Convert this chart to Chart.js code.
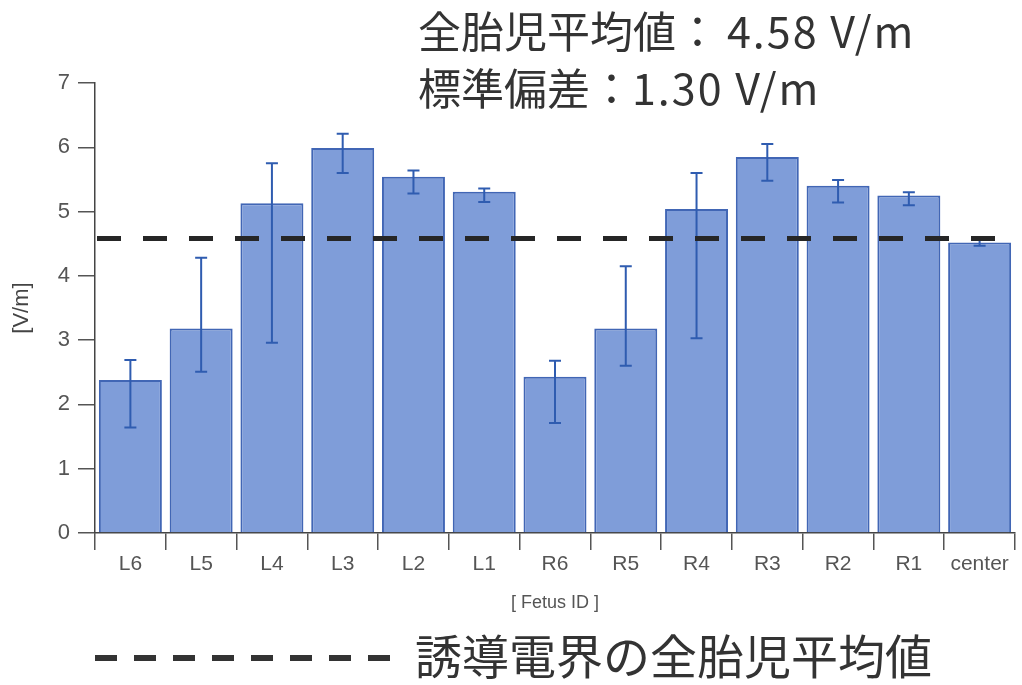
<!DOCTYPE html>
<html>
<head>
<meta charset="utf-8">
<script src="https://cdn.jsdelivr.net/npm/chart.js@4.4.1/dist/chart.umd.min.js"></script>
<style>
  html, body { margin: 0; padding: 0; background: #fff; }
  canvas { display: block; }
</style>
</head>
<body>
<canvas id="c" width="1022" height="685"></canvas>
<script>
// Induced electric field per fetus position (V/m)
const fetusIds  = ['L6', 'L5', 'L4', 'L3', 'L2', 'L1', 'R6', 'R5', 'R4', 'R3', 'R2', 'R1', 'center'];
const fieldMean = [2.38, 3.18, 5.13, 5.99, 5.54, 5.31, 2.43, 3.18, 5.04, 5.85, 5.40, 5.25, 4.52];
const fieldLow  = [1.64, 2.51, 2.96, 5.60, 5.28, 5.15, 1.71, 2.60, 3.03, 5.48, 5.14, 5.10, 4.47];
const fieldHigh = [2.69, 4.28, 5.75, 6.21, 5.64, 5.36, 2.68, 4.15, 5.60, 6.05, 5.49, 5.30, 4.57];
const yTicks    = [0, 1, 2, 3, 4, 5, 6, 7];
const overallMean = [4.58];
const overallSd   = [1.30];

const TEXT_FONT = '"Liberation Sans", Arial, sans-serif';
const JP_FONT = '"Noto Sans CJK JP", "Noto Sans", sans-serif';

// whiskers for each bar
const errorBars = {
  id: 'errorBars',
  afterDatasetsDraw(chart) {
    const { ctx } = chart;
    const meta = chart.getDatasetMeta(0);
    const y = chart.scales.y;
    ctx.save();
    ctx.strokeStyle = '#2f5cb0';
    ctx.lineWidth = 2;
    meta.data.forEach((bar, i) => {
      const x = bar.x;
      const yl = y.getPixelForValue(fieldLow[i]);
      const yh = y.getPixelForValue(fieldHigh[i]);
      ctx.beginPath();
      ctx.moveTo(x, yl); ctx.lineTo(x, yh);
      ctx.moveTo(x - 6, yl); ctx.lineTo(x + 6, yl);
      ctx.moveTo(x - 6, yh); ctx.lineTo(x + 6, yh);
      ctx.stroke();
    });
    ctx.restore();
  }
};

// dashed line for the all-fetus mean
const meanLine = {
  id: 'meanLine',
  afterDatasetsDraw(chart) {
    const { ctx, chartArea } = chart;
    const yp = chart.scales.y.getPixelForValue(overallMean[0]);
    ctx.save();
    ctx.strokeStyle = '#262626';
    ctx.lineWidth = 5;
    ctx.setLineDash([24, 22]);
    ctx.beginPath();
    ctx.moveTo(chartArea.left + 2, yp);
    ctx.lineTo(chartArea.right, yp);
    ctx.stroke();
    ctx.restore();
  }
};

// summary text at the top and the key at the bottom
const captions = {
  id: 'captions',
  afterDraw(chart) {
    const { ctx } = chart;
    ctx.save();
    ctx.fillStyle = '#333';
    ctx.textBaseline = 'middle';
    ctx.textAlign = 'left';
    ctx.font = '43px ' + JP_FONT;
    ctx.fillText('全胎児平均値：', 418, 32);
    ctx.fillText('標準偏差：', 418, 89);
    ctx.letterSpacing = '2px';
    ctx.fillText(overallMean[0].toFixed(2) + ' V/m', 727, 32);
    ctx.fillText(overallSd[0].toFixed(2) + ' V/m', 632, 89);
    ctx.letterSpacing = '0px';

    ctx.strokeStyle = '#333';
    ctx.lineWidth = 6;
    ctx.setLineDash([22, 17]);
    ctx.beginPath();
    ctx.moveTo(95, 658);
    ctx.lineTo(395, 658);
    ctx.stroke();
    ctx.setLineDash([]);

    ctx.font = '47px ' + JP_FONT;
    ctx.fillText('誘導電界の全胎児平均値', 415, 656);
    ctx.restore();
  }
};

new Chart(document.getElementById('c'), {
  type: 'bar',
  data: {
    labels: fetusIds,
    datasets: [{
      data: fieldMean,
      backgroundColor: '#7f9dd9',
      borderColor: '#4166b5',
      borderWidth: 2,
      barPercentage: 0.89,
      categoryPercentage: 1.0
    }]
  },
  options: {
    responsive: false,
    animation: false,
    layout: { padding: { top: 83, right: 7, bottom: 57, left: 0 } },
    plugins: {
      legend: { display: false },
      tooltip: { enabled: false }
    },
    scales: {
      x: {
        ticks: { font: { family: TEXT_FONT, size: 21 }, color: '#555', padding: 2 },
        grid: { offset: true, drawOnChartArea: false, tickLength: 17, color: '#555', lineWidth: 1.5 },
        border: { display: true, color: '#444', width: 1.5 },
        title: {
          display: true, text: '[ Fetus ID ]',
          font: { family: TEXT_FONT, size: 18 }, color: '#555',
          padding: { top: 0, bottom: 14 }
        },
        afterFit(scale) { scale.height = 95; }
      },
      y: {
        min: 0, max: 7,
        afterBuildTicks(scale) { scale.ticks = yTicks.map(v => ({ value: v })); },
        ticks: { font: { family: TEXT_FONT, size: 22 }, color: '#555', padding: 8 },
        grid: { drawOnChartArea: false, tickLength: 17, color: '#555', lineWidth: 1.5 },
        border: { display: true, color: '#444', width: 1.5 },
        title: {
          display: true, text: '[V/m]',
          font: { family: TEXT_FONT, size: 22 }, color: '#444',
          padding: { top: 9, bottom: 0 }
        },
        afterFit(scale) { scale.width = 95; }
      }
    }
  },
  plugins: [errorBars, meanLine, captions]
});
</script>
</body>
</html>
